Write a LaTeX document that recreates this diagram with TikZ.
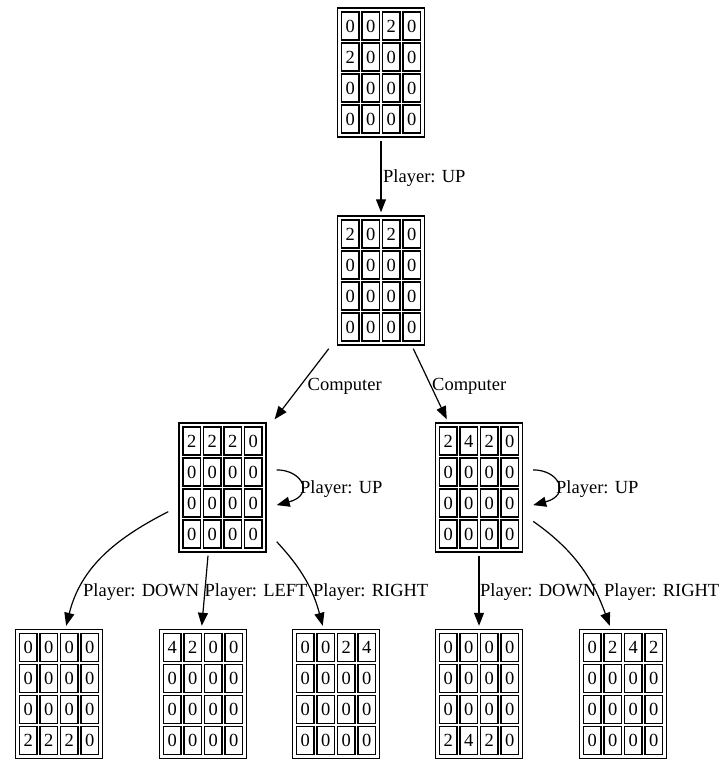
\documentclass[tikz,border=0pt]{standalone}
\usepackage{fontspec}
\setmainfont{Liberation Serif}
\usetikzlibrary{arrows.meta,calc}
\tikzset{
 every node/.style={font=\fontsize{18.5}{22}\selectfont},
 boardnode/.style={rectangle, minimum width=108pt, minimum height=136pt, inner sep=0pt},
 frame/.style={draw, line width=1.4pt},
 cell/.style={draw, line width=1.2pt, minimum width=17.5pt, minimum height=28pt, inner sep=0pt},
 conn/.style={draw, line width=1.2pt, -{Triangle[length=13pt,width=10pt]}},
 lbl/.style={anchor=base west, inner sep=0pt},
}
\newcommand\board[3]{%
  \node[boardnode] (#1) at (#2) {};
  \begin{scope}[shift={(#2)}]
  \draw[frame] (-43.5,-64.5) rectangle (43.5,64.5);
  \foreach \d [count=\i from 0] in {#3} {
    \pgfmathtruncatemacro\col{mod(\i,4)}
    \pgfmathtruncatemacro\row{div(\i,4)}
    \node[cell] (#1-\i) at ({(\col-1.5)*20.5},{(1.5-\row)*31}) {\d};
  }
  \end{scope}
}
\begin{document}
\begin{tikzpicture}[x=1pt,y=1pt]
\useasboundingbox (0,0) rectangle (721,-769);
\board{n0}{381,-72.5}{0,0,2,0,2,0,0,0,0,0,0,0,0,0,0,0}
\board{n1}{381,-280.5}{2,0,2,0,0,0,0,0,0,0,0,0,0,0,0,0}
\board{n2}{222.5,-487.5}{2,2,2,0,0,0,0,0,0,0,0,0,0,0,0,0}
\board{n3}{479,-487.5}{2,4,2,0,0,0,0,0,0,0,0,0,0,0,0,0}
\board{b1}{59,-694}{0,0,0,0,0,0,0,0,0,0,0,0,2,2,2,0}
\board{b2}{203,-694}{4,2,0,0,0,0,0,0,0,0,0,0,0,0,0,0}
\board{b3}{336,-694}{0,0,2,4,0,0,0,0,0,0,0,0,0,0,0,0}
\board{b4}{479,-694}{0,0,0,0,0,0,0,0,0,0,0,0,2,4,2,0}
\board{b5}{623,-694}{0,2,4,2,0,0,0,0,0,0,0,0,0,0,0,0}

\draw[conn] (n0) -- (n1);
\draw[conn] (n1) -- (n2);
\draw[conn] (n1) -- (n3);
\draw[conn] (n2.18) .. controls ($(n2.18)+(26,0)$) and ($(n2.-18)+(38,10)$) .. (n2.-18);
\draw[conn] (n3.18) .. controls ($(n3.18)+(26,0)$) and ($(n3.-18)+(38,10)$) .. (n3.-18);
\draw[conn] (n2.204) to[out=207,in=76] (b1.84);
\draw[conn] (n2.258) -- (b2.91);
\draw[conn] (n2.315) to[out=313,in=105] (b3.101);
\draw[conn] (n3) -- (b4);
\draw[conn] (n3.328) to[out=325,in=110] (b5.101);

\node[lbl] (l0) at (383,-182.5) {Player: UP};
\node[lbl] (l1) at (307.5,-390) {Computer};
\node[lbl] (l2) at (432,-390) {Computer};
\node[lbl] (l3) at (300,-493) {Player: UP};
\node[lbl] (l4) at (556,-493) {Player: UP};
\node[lbl] (l5) at (83,-596) {Player: DOWN};
\node[lbl] (l6) at (204.5,-596) {Player: LEFT};
\node[lbl] (l7) at (313,-596) {Player: RIGHT};
\node[lbl] (l8) at (480,-596) {Player: DOWN};
\node[lbl] (l9) at (604,-596) {Player: RIGHT};
\end{tikzpicture}
\end{document}
